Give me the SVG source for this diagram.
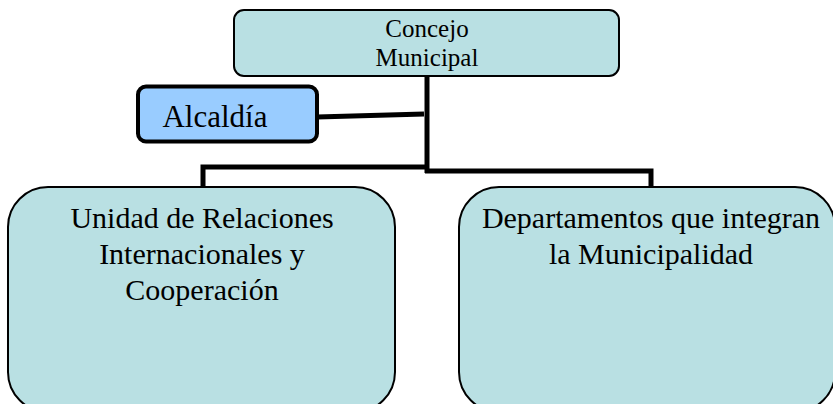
<svg xmlns="http://www.w3.org/2000/svg" width="833" height="404" viewBox="0 0 833 404">
<style>
.box{fill:#B9E0E3;stroke:#000;stroke-width:2}
.alc{fill:#99CCFF;stroke:#000;stroke-width:4}
.t{font-family:"Liberation Serif","Times New Roman",serif;fill:#000;text-anchor:middle}
.conn{fill:none;stroke:#000;stroke-width:5}
</style>
<rect width="833" height="404" fill="#fff"/>
<g id="connectors">
<polyline class="conn" points="427,77 427,173"/>
<polyline class="conn" points="203,188 203,167 425,167"/>
<polyline class="conn" points="425,171 651,171 651,188"/>
<line class="conn" x1="317" y1="117" x2="424" y2="114"/>
</g>
<g id="concejo">
<rect class="box" x="234" y="10" width="385" height="66" rx="10"/>
<text class="t" x="427" y="37" font-size="25">Concejo</text>
<text class="t" x="427" y="66" font-size="25">Municipal</text>
</g>
<g id="alcaldia">
<rect class="alc" x="138" y="86.5" width="179" height="55" rx="8"/>
<text class="t" x="215" y="127" font-size="31">Alcaldía</text>
</g>
<g id="unidad">
<rect class="box" x="8" y="187" width="387" height="225" rx="40"/>
<text class="t" x="202" y="228" font-size="30">Unidad de Relaciones</text>
<text class="t" x="202" y="264" font-size="30">Internacionales y</text>
<text class="t" x="202" y="300" font-size="30">Cooperación</text>
</g>
<g id="departamentos">
<rect class="box" x="459" y="187" width="376" height="225" rx="40"/>
<text class="t" x="651" y="228" font-size="30">Departamentos que integran</text>
<text class="t" x="651" y="264" font-size="30">la Municipalidad</text>
</g>
</svg>
